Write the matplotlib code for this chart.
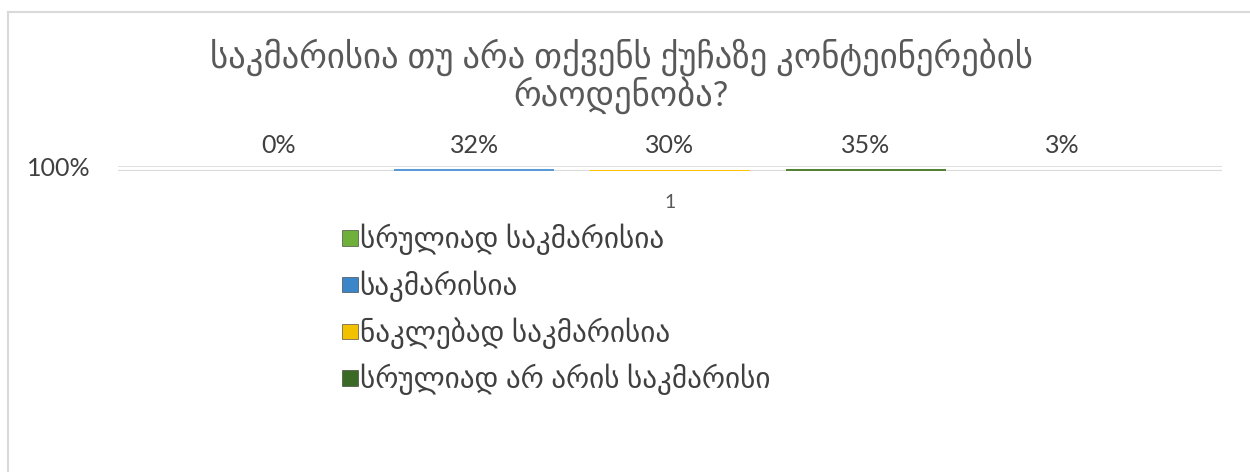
import matplotlib
matplotlib.use("Agg")
import matplotlib.pyplot as plt
from matplotlib.patches import Patch
from matplotlib.lines import Line2D

plt.rcParams["font.family"] = ["Lato", "DejaVu Sans"]

TITLE = "საკმარისია თუ არა თქვენს ქუჩაზე კონტეინერების\nრაოდენობა?"
CATEGORY = "1"
SERIES = [
    "სრულიად საკმარისია",
    "საკმარისია",
    "ნაკლებად საკმარისია",
    "სრულიად არ არის საკმარისი",
    "",
]
VALUES = [0.00, 0.32, 0.30, 0.35, 0.03]
LABELS = ["0%", "32%", "30%", "35%", "3%"]
BAR_COLORS = ["#70ad47", "#5b9bd5", "#ffc000", "#548235", "#a5b0bb"]
LEGEND_COLORS = ["#6fb03a", "#3a86c8", "#f2c200", "#3b6a27"]

TEXT = "#404040"
GRID = "#d9d9d9"


def main():
    fig = plt.figure(figsize=(12.5, 4.72), dpi=100)

    # chart frame (only left and top edges visible in the crop)
    fig.add_artist(Line2D([7.5 / 1250, 7.5 / 1250], [0, 1 - 11.5 / 472],
                          color=GRID, lw=1.5, transform=fig.transFigure))
    fig.add_artist(Line2D([7.5 / 1250, 1], [1 - 11.5 / 472, 1 - 11.5 / 472],
                          color=GRID, lw=1.5, transform=fig.transFigure))

    fig.text(0.497, 1 - 76 / 472, TITLE, ha="center", va="center",
             fontsize=25, color="#595959", linespacing=1.0)

    # the plot area is squashed to a few pixels
    ax = fig.add_axes([118 / 1250, 1 - 171 / 472, 1104 / 1250, 5 / 472])
    ax.set_xlim(-0.5, 0.5)
    ax.set_ylim(0, 1)

    step = 0.1775
    width = 0.145
    n = len(VALUES)
    for i, (v, lab, c) in enumerate(zip(VALUES, LABELS, BAR_COLORS)):
        x = (i - (n - 1) / 2) * step
        ax.bar(x, v, width=width, color=c, zorder=3)
        ax.annotate(lab, (x, 1), xytext=(0, 15), textcoords="offset points",
                    ha="center", va="center", fontsize=18, color=TEXT)

    for s in ax.spines.values():
        s.set_visible(False)
    ax.axhline(1, color=GRID, lw=1.2, zorder=1)
    ax.axhline(0, color=GRID, lw=1.5, zorder=1)
    ax.set_yticks([1])
    ax.set_yticklabels(["100%"], fontsize=18, color=TEXT)
    ax.set_xticks([])
    ax.tick_params(axis="y", length=0, pad=20)
    ax.set_facecolor("none")

    ax.annotate(CATEGORY, (0, 0), xytext=(0, -23), textcoords="offset points",
                ha="center", va="center", fontsize=14, color="#595959")

    handles = [Patch(facecolor=c, edgecolor="#303030", linewidth=0.4)
               for c in LEGEND_COLORS]
    fig.legend(handles, SERIES[:4], loc="upper left",
               bbox_to_anchor=(342 / 1250, 1 - 224 / 472),
               frameon=False, fontsize=21, labelcolor=TEXT,
               handlelength=0.55, handleheight=0.45, handletextpad=0.05,
               labelspacing=0.52, borderpad=0, borderaxespad=0)

    fig.savefig("out.png", dpi=100, facecolor="white")
    plt.close(fig)


if __name__ == "__main__":
    main()
